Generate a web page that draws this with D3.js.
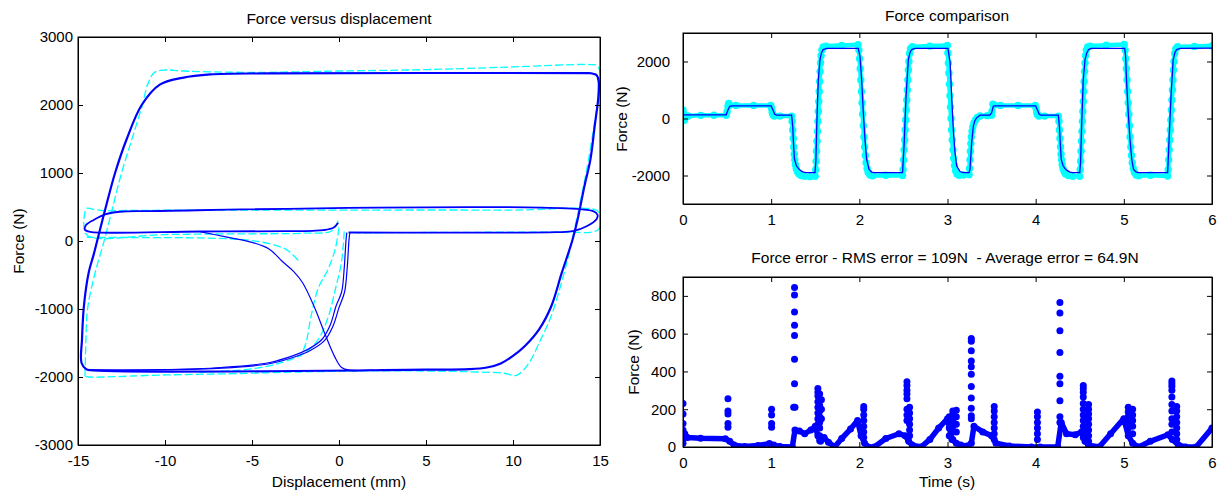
<!DOCTYPE html>
<html>
<head>
<meta charset="utf-8">
<title>Force model</title>
<script src="https://cdn.jsdelivr.net/npm/d3@7"></script>
<style>
  body { margin: 0; background: #fff; }
  svg { font-family: "Liberation Sans", Arial, Helvetica, sans-serif; }
</style>
</head>
<body>
<svg id="fig" width="1219" height="494"></svg>
<script>
// ---- data ----
var dispTicks = [-15, -10, -5, 0, 5, 10, 15];
var loopForceTicks = [-3000, -2000, -1000, 0, 1000, 2000, 3000];
var timeTicks = [0, 1, 2, 3, 4, 5, 6];
var compForceTicks = [-2000, 0, 2000];
var errTicks = [0, 200, 400, 600, 800];

// model loop, displacement (mm) vs force (N)
var loopModelMain = [[14.4,2470],[14.8,2440],[14.92,2350],[14.9,2100],[14.7,1700],[14.45,1200],[14.1,800],[13.7,300],[13.4,0],[12.8,-470],[12.2,-960],[11.5,-1300],[10.7,-1540],[10.0,-1690],[9.3,-1800],[8.5,-1860],[7.5,-1885],[5,-1893],[-14.3,-1900],[-14.55,-1880],[-14.8,-1790],[-14.77,-1445],[-14.66,-956],[-14.39,-470],[-14.1,-200],[-13.9,0],[-13.4,500],[-12.87,1000],[-12.2,1500],[-11.34,2000],[-10.3,2300],[-9,2400],[-7.4,2450],[-4,2465],[14.4,2470]];
var loopModelLow = [[-0.05,270],[-0.3,200],[-0.9,160],[-1.5,150],[-3,145],[-8,140],[-14.3,135],[-14.6,165],[-14.55,230],[-14.1,310],[-13.4,395],[-12.6,430],[-11,440],[14.6,440],[14.85,390],[14.8,320],[14.23,217],[13.45,144],[12.5,130],[0.55,125]];
var loopModelDropA = [[0.45,125],[0.4,0],[0.3,-400],[0.15,-750],[-0.17,-956],[-0.51,-1240],[-0.97,-1445],[-1.76,-1590],[-2.67,-1690],[-4.04,-1790],[-6.77,-1860],[-10.4,-1893],[-14.3,-1900]];
var loopModelDropB = [[0.62,125],[0.57,0],[0.47,-400],[0.32,-750],[0.0,-980],[-0.36,-1260],[-0.85,-1470],[-1.65,-1610],[-2.6,-1710],[-4.0,-1805],[-6.7,-1870],[-10.4,-1896],[-14.3,-1900]];
var loopModelCross = [[-8,138],[-6.5,60],[-5,-20],[-4,-120],[-3.3,-290],[-2.6,-450],[-2.1,-610],[-1.4,-980],[-0.8,-1370],[-0.25,-1700],[0.15,-1860],[0.6,-1900],[2,-1900]];

// measured loop
var loopMeasMain = [[-14.6,-1990],[-14.55,-1500],[-14.45,-1000],[-14.05,-500],[-13.5,0],[-13.0,500],[-12.5,1000],[-11.9,1500],[-11.3,2000],[-11.0,2300],[-10.6,2480],[-10.0,2515],[-9.0,2500],[-5,2480],[0,2500],[5,2520],[10,2560],[14.4,2595],[14.85,2580],[15.0,2480],[14.95,2200],[14.6,1600],[14.2,1000],[13.8,500],[13.3,-100],[12.8,-600],[12.2,-1100],[11.5,-1500],[10.9,-1800],[10.2,-1975],[9.5,-1945],[7,-1920],[2,-1910],[-2,-1925],[-6,-1950],[-10,-1970],[-14.4,-2000],[-14.6,-1990]];
var loopMeasLow = [[-0.05,300],[-0.4,150],[-2,115],[-6,105],[-10,95],[-14.4,70],[-14.65,200],[-14.5,480],[-14.2,470],[-13.5,445],[-12,450],[0,455],[10,455],[14.8,452],[15.0,380],[14.95,180],[14.5,130],[13,132],[1,120]];
var loopMeasBottom = [[-14.5,55],[-11,50],[-8,45],[-5.5,20],[-4,-40],[-3,-130],[-2.3,-300]];
var loopMeasMid = [[0.3,140],[0.15,-300],[-0.2,-700],[-0.6,-1100],[-1.2,-1450],[-2.0,-1650],[-3.2,-1780],[-5,-1880],[-8,-1930]];
var loopMeasMid2 = [[0.0,200],[-0.2,-100],[-0.6,-400],[-1.2,-700],[-1.6,-1100],[-1.9,-1500],[-2.2,-1700]];

// force comparison, time (s) vs force (N)
var modelForce = [[0,130],[0.49,130],[0.51,300],[0.53,430],[0.56,440],[1.0,440],[1.02,300],[1.04,150],[1.06,120],[1.232,120],[1.245,-300],[1.252,-800],[1.263,-1400],[1.285,-1650],[1.308,-1750],[1.335,-1830],[1.365,-1880],[1.40,-1900],[1.497,-1900],[1.507,-1500],[1.516,-386],[1.525,500],[1.535,1368],[1.554,2070],[1.57,2300],[1.59,2420],[1.63,2460],[1.988,2460],[2.007,2186],[2.026,1368],[2.045,210],[2.064,-737],[2.083,-1438],[2.11,-1790],[2.14,-1880],[2.17,-1900],[2.49,-1900],[2.507,-970],[2.53,782],[2.556,2070],[2.575,2320],[2.594,2420],[2.63,2460],[3.005,2460],[3.03,1950],[3.047,782],[3.066,-386],[3.085,-1193],[3.104,-1672],[3.142,-1860],[3.18,-1900],[3.244,-1900],[3.255,-1790],[3.274,-854],[3.293,-270],[3.31,-80],[3.33,23],[3.37,116],[3.48,120],[3.50,200],[3.52,432],[3.54,440],[4.0,440],[4.02,300],[4.04,150],[4.06,120],[4.257,120],[4.27,-300],[4.278,-800],[4.29,-1438],[4.31,-1650],[4.33,-1750],[4.36,-1830],[4.39,-1880],[4.42,-1900],[4.50,-1900],[4.51,-1500],[4.52,-386],[4.53,500],[4.54,1368],[4.56,2070],[4.58,2300],[4.60,2420],[4.63,2460],[5.01,2460],[5.02,2186],[5.03,1368],[5.05,210],[5.07,-737],[5.09,-1438],[5.11,-1790],[5.14,-1880],[5.17,-1900],[5.497,-1900],[5.51,-970],[5.535,782],[5.56,2070],[5.58,2320],[5.60,2420],[5.637,2460],[6.0,2470]];
var measuredForce = [[0,300],[0.005,180],[0.01,20],[0.015,-60],[0.03,40],[0.06,90],[0.2,110],[0.35,115],[0.49,115],
  [0.5,250],[0.51,430],[0.518,530],[0.53,470],[0.6,460],[0.8,455],[0.995,455],
  [1.005,350],[1.012,220],[1.02,130],[1.035,90],[1.1,85],[1.232,85],
  [1.238,-100],[1.244,-400],[1.25,-700],[1.256,-1000],[1.262,-1250],[1.268,-1450],[1.275,-1620],[1.285,-1760],[1.298,-1870],[1.315,-1950],[1.34,-2000],[1.38,-2030],[1.44,-2040],[1.50,-2030],
  [1.505,-1800],[1.51,-1500],[1.515,-1150],[1.52,-800],[1.525,-450],[1.53,-100],[1.535,250],[1.54,600],[1.545,950],[1.55,1300],[1.555,1650],[1.56,1950],[1.566,2200],[1.575,2400],[1.59,2510],[1.62,2540],[1.8,2560],[1.985,2590],
  [1.995,2400],[2.003,2100],[2.01,1750],[2.017,1350],[2.024,950],[2.031,550],[2.038,150],[2.045,-250],[2.052,-650],[2.06,-1000],[2.068,-1300],[2.077,-1550],[2.088,-1750],[2.10,-1890],[2.12,-1980],[2.15,-2010],[2.3,-1990],[2.49,-2000],
  [2.496,-1800],[2.502,-1450],[2.508,-1100],[2.514,-750],[2.52,-400],[2.526,-50],[2.532,300],[2.538,650],[2.544,1000],[2.55,1350],[2.556,1700],[2.562,2000],[2.57,2280],[2.58,2450],[2.6,2520],[2.8,2540],[2.998,2560],
  [3.004,2300],[3.01,1950],[3.016,1600],[3.022,1200],[3.028,800],[3.034,400],[3.04,0],[3.047,-400],[3.054,-750],[3.062,-1100],[3.07,-1400],[3.08,-1650],[3.092,-1830],[3.108,-1950],[3.13,-1990],[3.18,-1980],[3.245,-1970],
  [3.25,-1750],[3.255,-1450],[3.26,-1150],[3.265,-880],[3.27,-650],[3.278,-450],[3.287,-300],[3.3,-160],[3.318,-50],[3.34,40],[3.37,90],[3.45,100],[3.5,110],
  [3.505,260],[3.515,500],[3.53,470],[3.6,460],[3.8,455],[3.995,455],
  [4.005,350],[4.012,220],[4.02,130],[4.035,90],[4.1,85],[4.258,85],
  [4.264,-100],[4.27,-400],[4.276,-700],[4.282,-1000],[4.288,-1250],[4.294,-1450],[4.301,-1620],[4.311,-1760],[4.324,-1870],[4.34,-1950],[4.37,-2000],[4.42,-2030],[4.50,-2030],
  [4.505,-1800],[4.51,-1500],[4.515,-1150],[4.52,-800],[4.525,-450],[4.53,-100],[4.535,250],[4.54,600],[4.545,950],[4.55,1300],[4.555,1650],[4.56,1950],[4.566,2200],[4.575,2400],[4.59,2510],[4.62,2540],[4.8,2570],[5.005,2600],
  [5.015,2400],[5.022,2100],[5.029,1750],[5.036,1350],[5.043,950],[5.05,550],[5.057,150],[5.064,-250],[5.071,-650],[5.079,-1000],[5.087,-1300],[5.096,-1550],[5.107,-1750],[5.12,-1890],[5.14,-1980],[5.17,-2010],[5.3,-1990],[5.497,-2020],
  [5.503,-1800],[5.509,-1450],[5.515,-1100],[5.521,-750],[5.527,-400],[5.533,-50],[5.539,300],[5.545,650],[5.551,1000],[5.557,1350],[5.563,1700],[5.569,2000],[5.577,2280],[5.59,2450],[5.61,2520],[5.8,2530],[6.0,2550]];

// force error: low band (continuous) and spike columns
var errBand = [[0.0,20],[0.02,70],[0.05,50],[0.2,46],[0.48,44],[0.53,30],[0.58,10],[0.7,3],[0.85,8],[0.98,18],[1.03,10],[1.1,3],[1.24,0],[1.27,90],[1.32,85],[1.38,70],[1.45,90],[1.5,110],[1.53,60],[1.56,30],[1.6,50],[1.65,25],[1.72,0],[1.8,45],[1.9,95],[1.98,140],[2.02,60],[2.06,20],[2.1,0],[2.17,0],[2.3,45],[2.45,70],[2.52,60],[2.56,30],[2.6,10],[2.7,0],[2.8,40],[2.9,100],[3.0,150],[3.05,40],[3.1,20],[3.15,10],[3.22,5],[3.27,20],[3.3,110],[3.4,80],[3.5,60],[3.55,20],[3.7,5],[3.95,0],[4.05,0],[4.25,0],[4.29,130],[4.35,70],[4.45,65],[4.52,80],[4.56,30],[4.6,10],[4.72,0],[4.85,70],[5.0,150],[5.05,60],[5.1,20],[5.17,0],[5.3,30],[5.5,65],[5.55,40],[5.62,10],[5.7,0],[5.82,0],[6.0,100]];
var errSpikes = [[0.0,230],[0.0,175],[0.0,125],[0.0,90],
  [0.51,255],[0.51,190],[0.51,175],[0.51,125],[0.51,105],
  [1.005,200],[1.005,170],[1.005,125],[1.005,105],
  [1.255,210],[1.265,845],[1.265,805],[1.265,715],[1.265,645],[1.265,590],[1.265,465],[1.265,335],[1.27,210],
  [1.53,310],[1.53,290],[1.53,270],[1.53,240],[1.53,210],[1.53,180],[1.53,150],[1.53,120],[1.55,280],[1.55,250],[1.55,220],[1.55,190],[1.55,160],[1.55,130],[1.55,100],[1.55,60],[1.55,35],[1.57,250],[1.57,200],[1.57,150],
  [2.05,215],[2.05,200],[2.05,170],[2.05,140],[2.05,110],[2.05,80],[2.05,50],
  [2.54,345],[2.54,325],[2.54,300],[2.54,280],[2.54,255],[2.54,200],[2.54,170],[2.54,140],[2.57,210],[2.57,180],[2.57,150],[2.57,120],[2.57,90],[2.57,60],
  [3.02,160],[3.02,130],[3.02,100],[3.02,60],[3.06,190],[3.06,170],[3.06,140],[3.06,110],[3.06,80],[3.06,40],[3.1,195],[3.1,160],[3.1,120],[3.1,80],
  [3.27,575],[3.27,560],[3.27,510],[3.27,455],[3.27,425],[3.27,385],[3.27,320],[3.27,260],[3.27,205],[3.27,165],[3.27,150],
  [3.53,215],[3.53,190],[3.53,160],[3.53,130],[3.53,100],[3.53,70],[3.53,40],
  [4.02,185],[4.02,160],[4.02,130],[4.02,100],[4.02,70],[4.02,40],
  [4.275,765],[4.275,710],[4.275,615],[4.275,500],[4.275,375],[4.275,335],[4.275,245],[4.275,160],[4.275,130],
  [4.54,325],[4.54,310],[4.54,290],[4.54,265],[4.54,230],[4.54,200],[4.54,170],[4.54,140],[4.54,110],[4.54,80],[4.54,50],[4.6,225],[4.6,200],[4.6,175],[4.6,150],[4.6,120],[4.6,90],[4.6,60],[4.6,30],
  [5.05,210],[5.05,185],[5.05,160],[5.05,130],[5.05,100],[5.1,200],[5.1,170],[5.1,140],[5.1,110],[5.1,70],
  [5.545,350],[5.545,335],[5.545,320],[5.545,300],[5.545,265],[5.545,225],[5.545,190],[5.545,150],[5.545,120],[5.545,80],[5.6,215],[5.6,190],[5.6,160],[5.6,130],[5.6,100],[5.6,70],[5.6,40]];

var BLUE = '#0000ff', CYAN = '#00ffff';
var TICK_FS = 15, LABEL_FS = 15.5;

var svg = d3.select('#fig');

function fmt(d) { return String(d); }

// MATLAB-like axes: white box, inward ticks on all four sides
function makeAxes(id, x, y, xt, yt, yPad) {
  var x0 = x.range()[0], x1 = x.range()[1], yb = y.range()[0], yt0 = y.range()[1];
  var g = svg.append('g');
  g.append('rect').attr('x', x0).attr('y', yt0).attr('width', x1 - x0).attr('height', yb - yt0).attr('fill', '#fff');
  g.append('clipPath').attr('id', id).append('rect')
    .attr('x', x0).attr('y', yt0).attr('width', x1 - x0).attr('height', yb - yt0);
  var plot = g.append('g').attr('clip-path', 'url(#' + id + ')');
  var ax = g.append('g').attr('class', 'axes');
  ax.append('g').attr('transform', 'translate(0,' + yb + ')')
    .call(d3.axisBottom(x).tickValues(xt).tickSize(-5).tickSizeOuter(0).tickPadding(10).tickFormat(fmt));
  ax.append('g').attr('transform', 'translate(0,' + yt0 + ')')
    .call(d3.axisTop(x).tickValues(xt).tickSize(-5).tickSizeOuter(0).tickFormat(''));
  ax.append('g').attr('transform', 'translate(' + x0 + ',0)')
    .call(d3.axisLeft(y).tickValues(yt).tickSize(-5).tickSizeOuter(0).tickPadding(yPad).tickFormat(fmt));
  ax.append('g').attr('transform', 'translate(' + x1 + ',0)')
    .call(d3.axisRight(y).tickValues(yt).tickSize(-5).tickSizeOuter(0).tickFormat(''));
  ax.selectAll('g').attr('font-size', TICK_FS).attr('font-family', null);
  ax.selectAll('text').attr('fill', '#000');
  g.append('rect').attr('x', x0).attr('y', yt0).attr('width', x1 - x0).attr('height', yb - yt0)
    .attr('fill', 'none').attr('stroke', '#000').attr('stroke-width', 1);
  return { g: g, plot: plot, ax: ax };
}

function label(txt, x, y, rot) {
  var t = svg.append('text').attr('font-size', LABEL_FS).attr('text-anchor', 'middle')
    .style('white-space', 'pre').text(txt);
  if (rot) t.attr('transform', 'translate(' + x + ',' + y + ') rotate(-90)');
  else t.attr('x', x).attr('y', y);
  return t;
}

// ---- left: force versus displacement ----
var xd = d3.scaleLinear().domain([-15, 15]).range([78, 600]);
var yd = d3.scaleLinear().domain([-3000, 3000]).range([445, 37]);
var A = makeAxes('clipA', xd, yd, dispTicks, loopForceTicks, 5);
var loopLine = d3.line().x(function (d) { return xd(d[0]); }).y(function (d) { return yd(d[1]); }).curve(d3.curveCatmullRom.alpha(0.5));

[loopMeasMain, loopMeasLow, loopMeasBottom, loopMeasMid, loopMeasMid2].forEach(function (p) {
  A.plot.append('path').attr('d', loopLine(p)).attr('fill', 'none')
    .attr('stroke', CYAN).attr('stroke-width', 1.3).attr('stroke-dasharray', '8,3');
});
A.plot.append('path').attr('d', loopLine(loopModelMain)).attr('fill', 'none')
  .attr('stroke', BLUE).attr('stroke-width', 2.2);
[loopModelLow, loopModelDropA, loopModelDropB, loopModelCross].forEach(function (p, i) {
  A.plot.append('path').attr('d', loopLine(p)).attr('fill', 'none')
    .attr('stroke', BLUE).attr('stroke-width', i === 0 ? 1.8 : 1.2);
});
label('Force versus displacement', 339, 24);
label('Displacement (mm)', 339, 487);
label('Force (N)', 24, 241, true);

// ---- top right: force comparison ----
var xt = d3.scaleLinear().domain([0, 6]).range([683, 1212]);
var yc = d3.scaleLinear().domain([-3000, 3000]).range([204, 33]);
var B = makeAxes('clipB', xt, yc, timeTicks, compForceTicks, 13);
var tLine = d3.line().x(function (d) { return xt(d[0]); }).y(function (d) { return yc(d[1]); });
B.plot.append('path').attr('d', tLine(measuredForce)).attr('fill', 'none')
  .attr('stroke', CYAN).attr('stroke-width', 4.5).attr('stroke-linejoin', 'round').attr('stroke-linecap', 'round');
B.plot.selectAll('circle').data(measuredForce).enter().append('circle')
  .attr('cx', function (d) { return xt(d[0]); }).attr('cy', function (d) { return yc(d[1]); })
  .attr('r', 3.7).attr('fill', CYAN);
B.plot.append('path').attr('d', tLine(modelForce)).attr('fill', 'none')
  .attr('stroke', BLUE).attr('stroke-width', 1.3);
label('Force comparison', 947, 21);
label('Force (N)', 627, 119, true);

// ---- bottom right: force error ----
var ye = d3.scaleLinear().domain([0, 900]).range([447, 277]);
var C = makeAxes('clipC', xt, ye, timeTicks, errTicks, 7);
var eLine = d3.line().x(function (d) { return xt(d[0]); }).y(function (d) { return ye(d[1]); });
C.plot.append('path').attr('d', eLine(errBand)).attr('fill', 'none')
  .attr('stroke', BLUE).attr('stroke-width', 5.5).attr('stroke-linejoin', 'round').attr('stroke-linecap', 'round');
C.plot.selectAll('circle').data(errBand.concat(errSpikes)).enter().append('circle')
  .attr('cx', function (d) { return xt(d[0]); }).attr('cy', function (d) { return ye(d[1]); })
  .attr('r', 3.5).attr('fill', BLUE);
label('Force error - RMS error = 109N  - Average error = 64.9N', 945, 263);
label('Time (s)', 947, 487);
label('Force (N)', 639, 362, true);
</script>
</body>
</html>
